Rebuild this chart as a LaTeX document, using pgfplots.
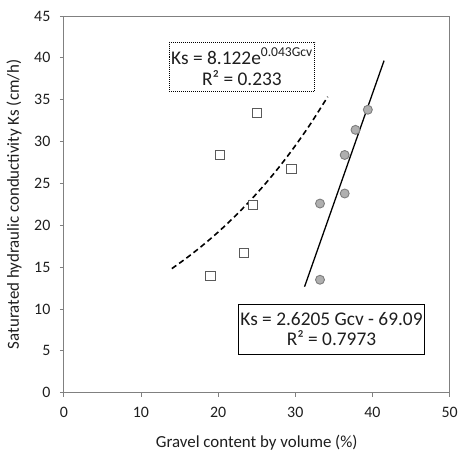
\documentclass[border=0pt]{standalone}
\usepackage{pgfplots}
\pgfplotsset{compat=1.18}
\usepackage{fontspec}
\setmainfont{Carlito}
\definecolor{axgray}{RGB}{128,128,128}
\definecolor{mkedge}{RGB}{90,90,90}
\definecolor{cirfill}{RGB}{175,175,175}
\definecolor{ciredge}{RGB}{125,125,125}
\definecolor{txt}{RGB}{30,30,30}
\begin{document}
\begin{tikzpicture}
\path (-64bp,-60bp) rectangle (397bp,394bp);
\begin{axis}[
  scale only axis,
  width=387bp, height=378bp,
  xmin=0, xmax=50, ymin=0, ymax=45,
  xtick={0,10,...,50}, ytick={0,5,...,45},
  axis line style={axgray, line width=0.9pt},
  tick style={axgray, line width=0.9pt},
  tick align=outside,
  major tick length=4bp,
  xtick pos=bottom, ytick pos=left,
  /pgf/number format/assume math mode=true,
  ticklabel style={font=\fontsize{16}{19}\selectfont, text=txt},
  xticklabel style={yshift=-7bp},
  yticklabel style={xshift=-6bp},
  clip=false,
]
% Squares
\addplot[only marks, mark=square*, mark size=4.6bp, mark options={fill=white, draw=mkedge, line width=0.9pt}]
coordinates {(19.0,14.0) (20.2,28.4) (25.0,33.4) (29.5,26.7) (24.5,22.4) (23.3,16.7)};
% Circles
\addplot[only marks, mark=*, mark size=4.5bp, mark options={fill=cirfill, draw=ciredge, line width=0.9pt}]
coordinates {(33.2,22.6) (33.2,13.5) (36.4,23.8) (36.4,28.4) (37.8,31.4) (39.4,33.8)};
% Exponential trend
\addplot[black, line width=1.6pt, dash pattern=on 5.5bp off 3.5bp, smooth]
coordinates {(14,14.83) (16,16.16) (18,17.61) (20,19.19) (22,20.92) (24,22.80) (26,24.84) (28,27.07) (30,29.51) (32,32.16) (34.2,35.35)};
% Linear trend
\addplot[black, line width=1.3pt]
coordinates {(31.2,12.67) (41.5,39.66)};
% Equation boxes
\node[draw=black, dash pattern=on 1bp off 1bp, line width=0.7pt, align=center, text=txt,
  font=\fontsize{19.5}{21}\selectfont, inner sep=2bp, minimum width=145bp, minimum height=49bp]
  at (axis cs:23.09,38.93) {Ks = 8.122e\textsuperscript{0.043Gcv}\\R² = 0.233};
\node[draw=black, line width=0.8pt, align=center, text=txt,
  font=\fontsize{19.5}{21}\selectfont, inner sep=2bp, minimum width=187bp, minimum height=50bp]
  at (axis cs:34.69,7.62) {Ks = 2.6205 Gcv - 69.09\\R² = 0.7973};
% Top and right frame
\draw[axgray, line width=0.9pt] (rel axis cs:0,1) -- (rel axis cs:1,1) -- (rel axis cs:1,0);
% Axis labels
\node[rotate=90, text=txt, font=\fontsize{17}{20}\selectfont] at (axis description cs:-0.129,0.5) {Saturated hydraulic conductivity Ks (cm/h)};
\node[text=txt, font=\fontsize{17}{20}\selectfont] at (axis description cs:0.5,-0.132) {Gravel content by volume (\%)};
\end{axis}
\end{tikzpicture}
\end{document}
